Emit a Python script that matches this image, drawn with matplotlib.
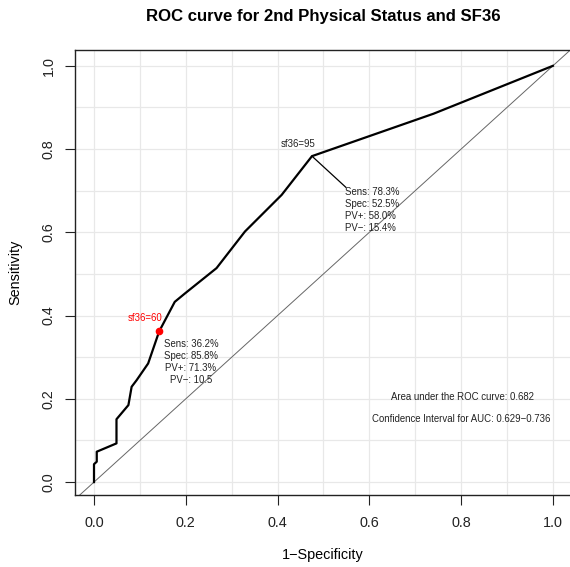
import matplotlib
matplotlib.use("Agg")
import matplotlib.pyplot as plt
import numpy as np

plt.rcParams['font.family'] = ['Liberation Sans', 'DejaVu Sans']

# ROC curve points (1-specificity, sensitivity)
fpr = [0, 0, 0.006, 0.006, 0.049, 0.049, 0.075, 0.082, 0.093, 0.118, 0.142,
       0.176, 0.198, 0.267, 0.329, 0.409, 0.475, 0.740, 1.0]
tpr = [0, 0.043, 0.049, 0.073, 0.093, 0.151, 0.185, 0.229, 0.245, 0.285, 0.362,
       0.433, 0.453, 0.514, 0.602, 0.690, 0.783, 0.885, 1.0]

# cut points
cut_best = (0.142, 0.362)     # sf36=60, red point
cut_other = (0.475, 0.783)    # sf36=95
best_label = "sf36=60"
other_label = "sf36=95"
best_stats = "Sens: 36.2%\nSpec: 85.8%\nPV+: 71.3%\nPV\u2212: 10.5"
other_stats = "Sens: 78.3%\nSpec: 52.5%\nPV+: 58.0%\nPV\u2212: 15.4%"
auc_text = "Area under the ROC curve: 0.682"
ci_text = "Confidence Interval for AUC: 0.629\u22120.736"

fig = plt.figure(figsize=(5.7, 5.67), dpi=100)
ax = fig.add_axes([75 / 570, (567 - 495) / 567, (574 - 75) / 570, (495 - 50) / 567])
ax.set_xlim(-0.0414, 1.046)
ax.set_ylim(-0.031, 1.038)

# grid every 0.1
for g in np.arange(0, 1.01, 0.1):
    ax.axvline(g, color='#e8e8e8', lw=0.9, zorder=0)
    ax.axhline(g, color='#e8e8e8', lw=0.9, zorder=0)

ax.axline((0, 0), (1, 1), color='#666666', lw=0.7, zorder=1)
ax.plot(fpr, tpr, color='black', lw=1.6, zorder=3)

# sf36=95 annotation
ax.plot([cut_other[0], 0.549], [cut_other[1], 0.708], color='black', lw=0.9, zorder=3)
ax.text(0.444, 0.8125, other_label, fontsize=6.9, ha='center', va='center', color='#222222')
ax.text(0.547, 0.708, other_stats, fontsize=6.9, ha='left', va='top', color='#222222',
        linespacing=1.25)

# sf36=60 annotation
ax.plot(cut_best[0], cut_best[1], 'o', color='red', ms=4.5, zorder=4)
ax.text(0.111, 0.395, best_label, fontsize=6.9, ha='center', va='center', color='red')
ax.text(0.211, 0.343, best_stats, fontsize=6.9, ha='center', va='top', color='#222222',
        linespacing=1.25)

ax.text(0.804, 0.204, auc_text, fontsize=6.9, ha='center', va='center', color='#222222')
ax.text(0.801, 0.151, ci_text, fontsize=6.9, ha='center', va='center', color='#222222')

ticks = [0.0, 0.2, 0.4, 0.6, 0.8, 1.0]
ax.set_xticks(ticks)
ax.set_xticklabels([f"{t:.1f}" for t in ticks])
ax.set_yticks(ticks)
ax.set_yticklabels([f"{t:.1f}" for t in ticks], rotation=90, va='center')
ax.tick_params(direction='out', length=7, width=0.8, labelsize=10.4, colors='#222222')
ax.tick_params(axis='x', pad=8)
ax.tick_params(axis='y', pad=7)

for s in ax.spines.values():
    s.set_linewidth(1.0)
    s.set_color('#222222')

fig.text(323 / 570, 1 - 555 / 567, "1\u2212Specificity", fontsize=10.4,
         ha='center', va='center')
fig.text(15 / 570, 1 - 272 / 567, "Sensitivity", fontsize=10.4,
         ha='center', va='center', rotation=90)
fig.text(323 / 570, 1 - 16 / 567, "ROC curve for 2nd Physical Status and SF36",
         fontsize=12.1, fontweight='bold', ha='center', va='center')

fig.savefig("out.png", dpi=100)
